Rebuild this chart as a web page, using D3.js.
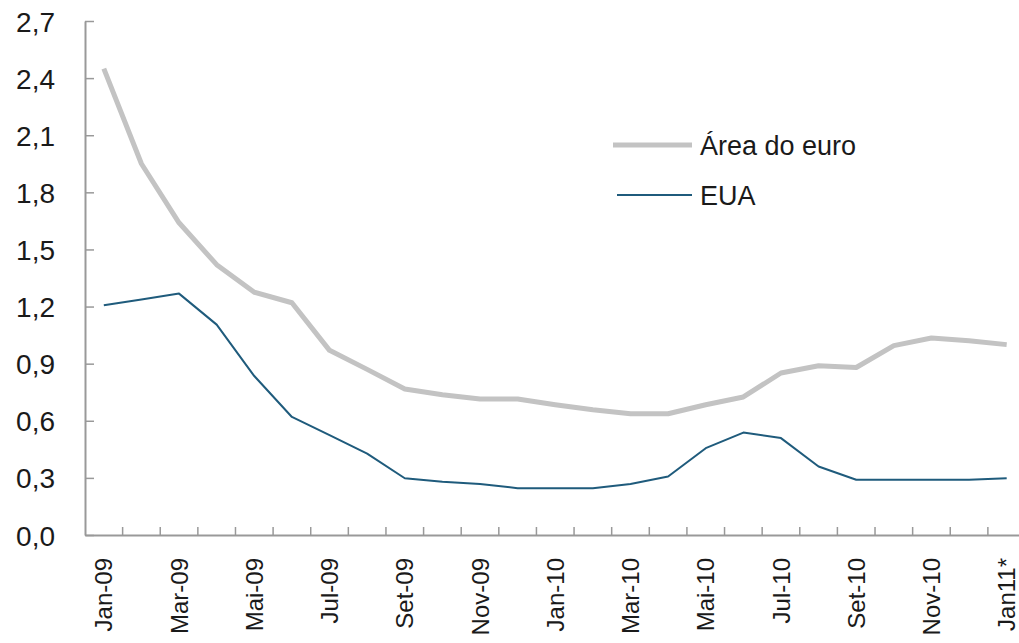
<!DOCTYPE html>
<html>
<head>
<meta charset="utf-8">
<script src="https://cdn.jsdelivr.net/npm/d3@7"></script>
<style>
  body { margin: 0; background: #fff; }
  text { font-family: "Liberation Sans", Arial, sans-serif; fill: #1a1a1a; }
</style>
</head>
<body>
<div id="chart"></div>
<script>
var months = ["Jan-09","Fev-09","Mar-09","Abr-09","Mai-09","Jun-09","Jul-09","Ago-09","Set-09","Out-09","Nov-09","Dez-09",
              "Jan-10","Fev-10","Mar-10","Abr-10","Mai-10","Jun-10","Jul-10","Ago-10","Set-10","Out-10","Nov-10","Dez-10","Jan11*"]
var euro = [2.45, 1.95, 1.64, 1.42, 1.275, 1.22, 0.97, 0.87, 0.767, 0.737, 0.714, 0.714,
            0.684, 0.658, 0.637, 0.637, 0.684, 0.725, 0.851, 0.889, 0.88, 0.995, 1.035, 1.02, 1.0]
var eua = [1.207, 1.237, 1.268, 1.105, 0.835, 0.62, 0.525, 0.427, 0.298, 0.28, 0.268, 0.246,
           0.246, 0.246, 0.268, 0.307, 0.456, 0.538, 0.509, 0.36, 0.29, 0.29, 0.29, 0.29, 0.298]
var yTicks = [0, 0.3, 0.6, 0.9, 1.2, 1.5, 1.8, 2.1, 2.4, 2.7]
var series = [
  {name: "Área do euro", values: euro, color: "#c3c3c3", width: 5},
  {name: "EUA", values: eua, color: "#1f5b7c", width: 2}
]

var W = 1019, H = 643
var margin = {left: 85, top: 21, bottom: 535}
var bandW = 37.62

var svg = d3.select("#chart").append("svg")
    .attr("width", W)
    .attr("height", H)

var x = d3.scaleBand().domain(months).range([margin.left, margin.left + bandW * months.length]).padding(0)
var y = d3.scaleLinear().domain([0, 2.7]).range([margin.bottom, margin.top])

// y axis, ticks pointing inward
var yAxis = svg.append("g")
    .attr("transform", "translate(" + margin.left + ",0)")
    .call(d3.axisLeft(y).tickValues(yTicks).tickSizeInner(-9).tickSizeOuter(0).tickPadding(30)
        .tickFormat(function(d) { return d3.format(".1f")(d).replace(".", ","); }))
yAxis.select(".domain").attr("stroke", "#999").attr("stroke-width", 2)
yAxis.selectAll(".tick line").attr("stroke", "#999").attr("stroke-width", 1.5)
yAxis.selectAll("text").style("font-size", "28px").attr("dy", "0.36em").attr("fill", "#1a1a1a")

// x axis
var xAxis = svg.append("g")
    .attr("transform", "translate(0," + margin.bottom + ")")
    .call(d3.axisBottom(x).tickSize(0).tickPadding(0)
        .tickValues(months.filter(function(d, i) { return i % 2 == 0; })))
xAxis.select(".domain").attr("stroke", "#999").attr("stroke-width", 2)
xAxis.selectAll("text")
    .style("font-size", "24px")
    .attr("fill", "#1a1a1a")
    .attr("text-anchor", "end")
    .attr("transform", "rotate(-90)")
    .attr("x", -23)
    .attr("y", 0)
    .attr("dy", "0.36em")

// category boundary ticks
svg.append("g").selectAll("line")
    .data(months.slice(1))
    .enter().append("line")
    .attr("x1", function(d) { return x(d); })
    .attr("x2", function(d) { return x(d); })
    .attr("y1", margin.bottom)
    .attr("y2", margin.bottom - 8)
    .attr("stroke", "#999")
    .attr("stroke-width", 1.5)

var line = d3.line()
    .x(function(d, i) { return x(months[i]) + x.bandwidth() / 2; })
    .y(function(d) { return y(d); })

svg.selectAll(".series")
    .data(series)
    .enter().append("path")
    .attr("class", "series")
    .attr("d", function(d) { return line(d.values); })
    .attr("fill", "none")
    .attr("stroke", function(d) { return d.color; })
    .attr("stroke-width", function(d) { return d.width; })
    .attr("stroke-linejoin", "round")

// legend
var legend = svg.selectAll(".legend")
    .data(series)
    .enter().append("g")
    .attr("class", "legend")
    .attr("transform", function(d, i) { return "translate(613," + (145 + i * 50) + ")"; })

legend.append("line")
    .attr("x1", function(d, i) { return i == 0 ? 0 : 4; })
    .attr("x2", 79)
    .attr("stroke", function(d) { return d.color; })
    .attr("stroke-width", function(d) { return d.width; })

legend.append("text")
    .attr("x", 87)
    .attr("y", 0)
    .attr("dy", "0.36em")
    .style("font-size", "27px")
    .text(function(d) { return d.name; })
</script>
</body>
</html>
